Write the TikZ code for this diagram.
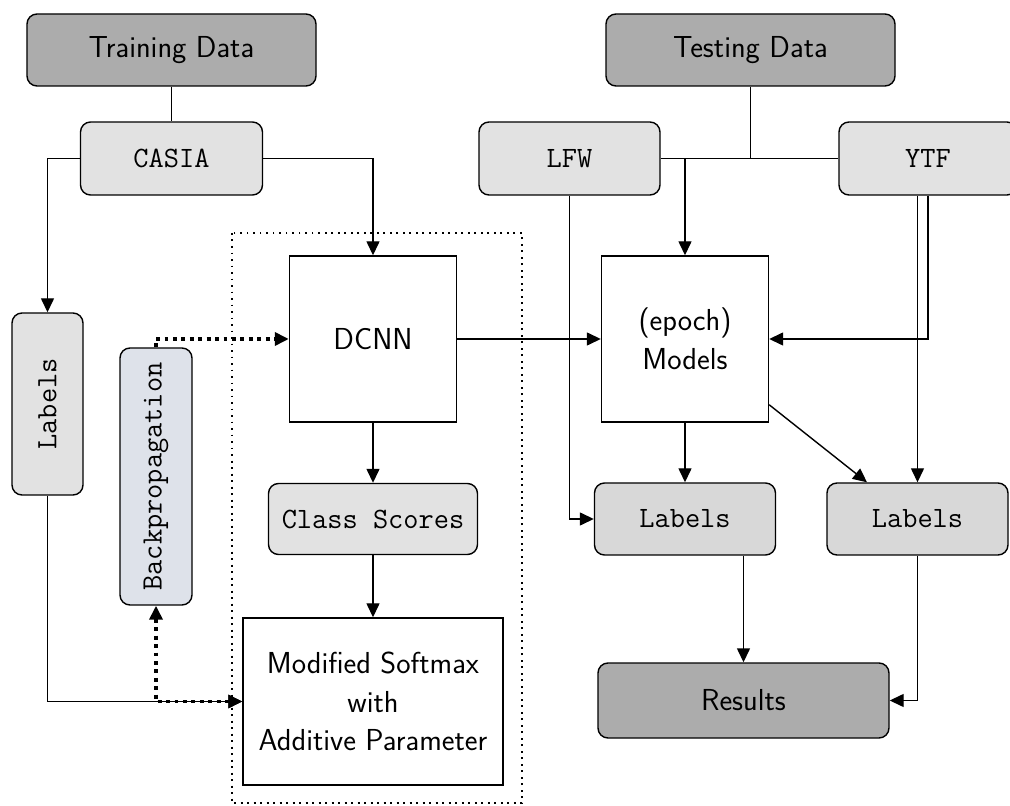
\documentclass[tikz,border=0pt]{standalone}
\usepackage{amsmath, amssymb, tikz}
\usetikzlibrary{arrows,arrows.meta,calc,positioning,shapes}
\definecolor{datagray}{RGB}{172,172,172}
\definecolor{setgray}{RGB}{226,226,226}
\definecolor{labgray}{RGB}{216,216,216}
\definecolor{backgray}{RGB}{222,226,234}
\newcommand{\mono}{\ttfamily\fontsize{16.8}{20}\selectfont}
\tikzstyle{data} = [rectangle, rounded corners=2mm, draw=black, fill=datagray, minimum width=5.78cm, minimum height=1.44cm, font=\sffamily\LARGE]
\tikzstyle{set} = [rectangle, rounded corners=2mm, draw=black, fill=setgray, minimum width=3.64cm, minimum height=1.46cm, font=\mono]
\tikzstyle{block} = [rectangle, draw=black, fill=white, align=center, font=\sffamily\LARGE]
\tikzstyle{arrow} = [->,>={Triangle[length=2.8mm,width=2.6mm]}]
\tikzstyle{backarrow} = [line width=2.2pt, dash pattern=on 2.2pt off 2.6pt, >={Triangle[length=2.8mm,width=2.6mm]}]

\begin{document}
\begin{tikzpicture}[line width=0.8pt] %[every node/.style={draw}]
\useasboundingbox (0,0) rectangle (20.2,16.1);
\draw[line width=1.1pt, dash pattern=on 1.1pt off 2.6pt] (4.64,11.44) rectangle (10.44,0.04);
\node[data] (train) at (3.43,15.10) {Training Data};
\node[data] (test) at (15.01,15.10) {Testing Data};
\node[set] (casia) at (3.43,12.93) {CASIA};
\node[set, minimum width=3.62cm] (lfw) at (11.39,12.93) {LFW};
\node[set, minimum width=3.56cm] (ytf) at (18.56,12.93) {YTF};
\node[set, minimum width=1.42cm, minimum height=3.64cm] (labl) at (0.95,8.02) {\rotatebox{90}{Labels}};
\node[set, fill=backgray, minimum width=1.44cm, minimum height=5.14cm] (back) at (3.12,6.57) {\rotatebox{90}{Backpropagation}};
\node[block, minimum width=3.34cm, minimum height=3.32cm] (dcnn) at (7.46,9.32) {DCNN};
\node[block, minimum width=3.34cm, minimum height=3.32cm] (models) at (13.70,9.32) {(epoch)\\Models};
\node[set, minimum width=4.18cm, minimum height=1.42cm] (score) at (7.46,5.72) {Class Scores};
\node[block, minimum width=5.2cm, minimum height=3.34cm] (softmax) at (7.46,2.07) {Modified Softmax\\with\\Additive Parameter};
\node[set, fill=labgray, minimum width=3.62cm, minimum height=1.44cm] (lab1) at (13.70,5.72) {Labels};
\node[set, fill=labgray, minimum width=3.62cm, minimum height=1.44cm] (lab2) at (18.35,5.72) {Labels};
\node[data, minimum width=5.82cm, minimum height=1.5cm] (results) at (14.87,2.09) {Results};
\coordinate (split) at (test.south |- lfw.east);
% training side
\draw (train.south) -- (casia.north);
\draw[arrow] (casia.east) -| (dcnn.north);
\draw[arrow] (casia.west) -| (labl.north);
\draw[arrow] (labl.south) |- (softmax.west);
\draw[arrow] (dcnn.south) -- (score.north);
\draw[arrow] (score.south) -- (softmax.north);
\draw[backarrow, ->] (back.north) |- (dcnn.west);
\draw[backarrow, <->] (back.south) |- (softmax.west);
\draw[arrow] (dcnn.east) -- (models.west);
% testing side
\draw (test.south) -- (split);
\draw (lfw.east) -- (ytf.west);
\draw[arrow] (models.north |- split) -- (models.north);
\draw[arrow] (lfw.south) |- (lab1.west);
\draw[arrow] (ytf.south) |- (models.east);
\draw[arrow] (ytf.south -| lab2.north) -- (lab2.north);
\draw[arrow] (models.south) -- (lab1.north);
\draw[arrow] (models.-38) -- (lab2.144);
\draw[arrow] (results.north |- lab1.south) -- (results.north);
\draw[arrow] (lab2.south) |- (results.east);
\end{tikzpicture}
\end{document}
